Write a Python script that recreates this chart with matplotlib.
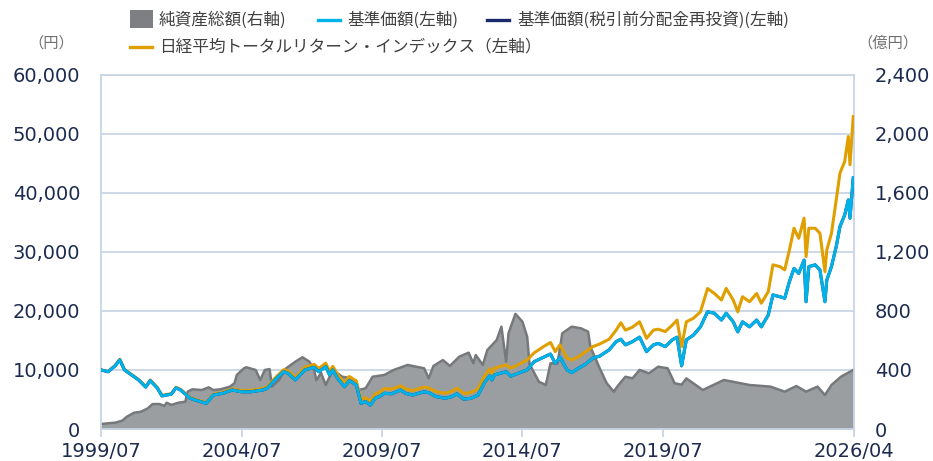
import numpy as np
import pandas as pd
import matplotlib
matplotlib.use("Agg")
import matplotlib.pyplot as plt
from matplotlib.lines import Line2D
from matplotlib.patches import Rectangle

# 基準価額 / 日経平均トータルリターン・インデックス (円, 左軸)
nav_dates = [
    "1999-07", "1999-10", "2000-01", "2000-03", "2000-05", "2000-08", "2000-11",
    "2001-02", "2001-04", "2001-07", "2001-09", "2002-01", "2002-03", "2002-05",
    "2002-09", "2002-12", "2003-04", "2003-07", "2003-11", "2004-03", "2004-07",
    "2004-11", "2005-04", "2005-06", "2005-10", "2006-01", "2006-03", "2006-06",
    "2006-10", "2007-02", "2007-04", "2007-07-01", "2007-08-20", "2007-10", "2007-12",
    "2008-03", "2008-05", "2008-08", "2008-10", "2008-12", "2009-02", "2009-04",
    "2009-06", "2009-08", "2009-11", "2010-03", "2010-05", "2010-08", "2011-01",
    "2011-03", "2011-06", "2011-10", "2012-01", "2012-03", "2012-06", "2012-09",
    "2012-12", "2013-03", "2013-05", "2013-06", "2013-07", "2013-12", "2014-02",
    "2014-05", "2014-09", "2014-12", "2015-04", "2015-07", "2015-09", "2015-11",
    "2016-02", "2016-04", "2016-07", "2016-10", "2017-01", "2017-04", "2017-08",
    "2017-11", "2018-01", "2018-03", "2018-06", "2018-09", "2018-12", "2019-03",
    "2019-05", "2019-08", "2019-11", "2020-01", "2020-03", "2020-05", "2020-08",
    "2020-11", "2021-02", "2021-05", "2021-08", "2021-10", "2022-01", "2022-03",
    "2022-05", "2022-08", "2022-11", "2023-01", "2023-04", "2023-06", "2023-09",
    "2023-11", "2024-01", "2024-03", "2024-05", "2024-07-10", "2024-08-05",
    "2024-09-10", "2024-12", "2025-02", "2025-04-07", "2025-05", "2025-07",
    "2025-09", "2025-10-20", "2025-12-20", "2026-02-05", "2026-02-27", "2026-04-10",
]
nav = [
    10000, 9700, 10700, 11700, 10000, 9150, 8300,
    7100, 8200, 6950, 5600, 5900, 6950, 6600,
    5200, 4800, 4350, 5750, 6050, 6600, 6300,
    6300, 6600, 6900, 8600, 9700, 9400, 8300,
    10000, 10450, 9700, 10550, 9150, 10000, 8600,
    7150, 8200, 7450, 4350, 4650, 4050, 5200,
    5500, 6050, 5950, 6600, 6050, 5750, 6300,
    6150, 5500, 5200, 5500, 5950, 5050, 5200,
    5750, 8000, 9000, 8300, 9150, 9700, 8950,
    9400, 10000, 11400, 12150, 12700, 11100, 12150,
    10000, 9550, 10300, 11000, 12000, 12350, 13400,
    14800, 15200, 14250, 14800, 15550, 13100, 14250,
    14500, 13950, 15100, 15550, 10700, 15100, 15900,
    17300, 19850, 19600, 18450, 19600, 18150, 16450,
    18150, 17300, 18450, 17300, 19300, 22700, 22400,
    22150, 24950, 27200, 26350, 28600, 21550,
    27500, 27800, 26950, 21550, 25200, 27500,
    30900, 34300, 36250, 38800, 35700, 42500,
]
nav_reinvested = list(nav)  # 分配実績なしのため基準価額と重なる
nikkei_tr = [
    10000, 9750, 10750, 11800, 10080, 9230, 8380,
    7180, 8290, 7040, 5690, 6000, 7060, 6710,
    5310, 4920, 4470, 5900, 6220, 6800, 6520,
    6540, 6860, 7180, 8920, 10050, 9780, 8700,
    10450, 10950, 10250, 11150, 9750, 10600, 9250,
    7800, 8900, 8150, 5000, 5300, 4700, 5900,
    6250, 6850, 6750, 7300, 6800, 6500, 7100,
    6950, 6350, 6050, 6400, 6900, 6000, 6200,
    6800, 9100, 10200, 9400, 10300, 10850, 10300,
    10850, 11700, 12900, 13950, 14650, 13100, 14250,
    12000, 11700, 12250, 13100, 13950, 14400, 15200,
    16750, 18000, 16750, 17250, 18150, 15350, 16750,
    16900, 16500, 17600, 18450, 13950, 18150, 18750,
    19850, 23800, 22950, 21850, 23800, 21850, 19850,
    22400, 21550, 22950, 21300, 23250, 27800, 27500,
    26950, 30300, 34000, 32300, 35700, 29200,
    34000, 34000, 33150, 26650, 30300, 33150,
    38800, 43350, 45300, 49550, 44750, 52900,
]

# 純資産総額 (億円, 右軸)
aum_dates = [
    "1999-07", "2000-01", "2000-04", "2000-06", "2000-09", "2000-12", "2001-03",
    "2001-05", "2001-08", "2001-10", "2001-11", "2002-01", "2002-04", "2002-07",
    "2002-08", "2002-10", "2003-02", "2003-05", "2003-07", "2003-10", "2004-02",
    "2004-04", "2004-05", "2004-08", "2004-09", "2005-01", "2005-03", "2005-05",
    "2005-07", "2005-08", "2005-11", "2006-02", "2006-06", "2006-09", "2006-12",
    "2007-02", "2007-03", "2007-05", "2007-07", "2007-10", "2008-02", "2008-06",
    "2008-09", "2008-12", "2009-03", "2009-08", "2009-12", "2010-06", "2010-08",
    "2011-01", "2011-03", "2011-05", "2011-09", "2011-12", "2012-04", "2012-08",
    "2012-10", "2012-11", "2013-02", "2013-04", "2013-08", "2013-10", "2013-12",
    "2014-01", "2014-04", "2014-07", "2014-09", "2014-10", "2015-02", "2015-05",
    "2015-07", "2015-10", "2015-12", "2016-04", "2016-08", "2016-11", "2016-12",
    "2017-04", "2017-07", "2017-10", "2017-12", "2018-03", "2018-06", "2018-09",
    "2019-01", "2019-05", "2019-09", "2019-12", "2020-03", "2020-05", "2020-12",
    "2021-09", "2022-08", "2023-05", "2023-11", "2024-04", "2024-08-05", "2025-01",
    "2025-04-07", "2025-07", "2025-11", "2026-04-10",
]
aum = [
    34, 43, 56, 83, 110, 117, 140,
    169, 169, 156, 178, 163, 178, 185,
    253, 269, 264, 282, 264, 269, 287,
    310, 366, 411, 418, 400, 332, 400,
    406, 287, 332, 411, 456, 486, 456,
    400, 330, 380, 298, 400, 354, 343,
    264, 276, 354, 366, 400, 434, 427,
    411, 343, 427, 467, 427, 490, 517,
    445, 501, 434, 535, 603, 693, 456,
    648, 780, 727, 625, 440, 320, 298,
    445, 445, 648, 693, 682, 659, 557,
    411, 310, 253, 298, 354, 343, 400,
    377, 422, 411, 310, 300, 343, 264,
    332, 298, 287, 253, 291, 253, 287,
    230, 298, 354, 400,
]

x_ticks = ["1999-07-01", "2004-07-01", "2009-07-01", "2014-07-01", "2019-07-01", "2026-04-20"]
x_labels = ["1999/07", "2004/07", "2009/07", "2014/07", "2019/07", "2026/04"]
left_ticks = [0, 10000, 20000, 30000, 40000, 50000, 60000]
right_ticks = [0, 400, 800, 1200, 1600, 2000, 2400]

nav_dt = pd.to_datetime(nav_dates, format="ISO8601")
aum_dt = pd.to_datetime(aum_dates, format="ISO8601")
tick_dt = pd.to_datetime(x_ticks)

grid_c = "#c8d5e4"
tick_c = "#1c2b4f"
jp = ["Noto Sans CJK JP", "DejaVu Sans"]

W, H = 933, 461
fig = plt.figure(figsize=(W / 100, H / 100), dpi=100)
ax = fig.add_axes([101 / W, 1 - 429 / H, 753 / W, 354.3 / H])
ax2 = ax.twinx()

# area on the bottom axes (right scale), lines on the twin (left scale)
ax.fill_between(aum_dt, aum, 0, color="#9b9ea1", lw=0, zorder=1)
ax.plot(aum_dt, aum, color="#76797c", lw=1.8, zorder=1.5)
ax.set_ylim(0, 2400)
ax.set_yticks(right_ticks)
ax.set_yticklabels([f"{v:,}" for v in right_ticks])
ax.yaxis.tick_right()
ax.grid(axis="y", color=grid_c, lw=1.3)
ax.set_axisbelow(True)

ax2.plot(nav_dt, nikkei_tr, color="#e09f00", lw=2.2, zorder=2)
ax2.plot(nav_dt, nav_reinvested, color="#1b2a6b", lw=2.2, zorder=3)
ax2.plot(nav_dt, nav, color="#00b2e8", lw=2.2, zorder=4)
ax2.set_ylim(0, 60000)
ax2.set_yticks(left_ticks)
ax2.set_yticklabels([f"{v:,}" for v in left_ticks])
ax2.yaxis.tick_left()

ax.set_xlim(pd.Timestamp("1999-07-01"), pd.Timestamp("2026-04-20"))
ax.set_xticks(tick_dt)
ax.set_xticklabels(x_labels)

for s in ax2.spines.values():
    s.set_visible(False)
for s in ax.spines.values():
    s.set_visible(True)
    s.set_color(grid_c)
    s.set_linewidth(1.3)

ax.tick_params(axis="y", length=0, pad=15, labelsize=14, labelcolor=tick_c)
ax2.tick_params(axis="y", length=0, pad=15, labelsize=14, labelcolor=tick_c)
ax.tick_params(axis="x", length=6, width=1.3, color=grid_c, pad=3,
               labelsize=14, labelcolor=tick_c)


def fx(px):
    return px / W


def fy(py):
    return 1 - py / H


# units
fig.text(fx(51), fy(43), "（円）", family=jp, fontsize=11, color="#707070",
         ha="center", va="center")
fig.text(fx(888), fy(43), "（億円）", family=jp, fontsize=11, color="#707070",
         ha="center", va="center")

# legend
fig.add_artist(Rectangle((fx(130), fy(28)), 23 / W, 18 / H, transform=fig.transFigure,
                         color="#7d7f82", lw=0))
legend_lines = [
    (318, 20, "#00b2e8"),
    (487, 20, "#1b2a6b"),
    (130, 47, "#e09f00"),
]
for x0, y0, c in legend_lines:
    fig.add_artist(Line2D([fx(x0), fx(x0 + 22)], [fy(y0), fy(y0)],
                          transform=fig.transFigure, color=c, lw=2.4))
legend_texts = [
    (159, 20, "純資産総額(右軸)"),
    (347, 20, "基準価額(左軸)"),
    (517, 20, "基準価額(税引前分配金再投資)(左軸)"),
    (159, 47, "日経平均トータルリターン・インデックス（左軸）"),
]
for x0, y0, t in legend_texts:
    fig.text(fx(x0), fy(y0), t, family=jp, fontsize=12, color="#404040",
             ha="left", va="center")

fig.savefig("out.png", dpi=100)
